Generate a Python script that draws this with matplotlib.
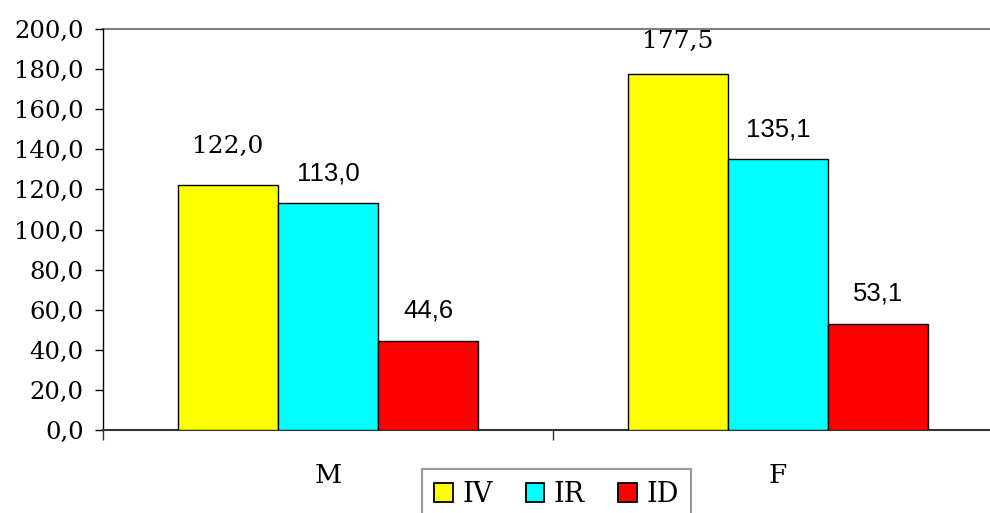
import matplotlib
matplotlib.use("Agg")
import matplotlib.pyplot as plt
from matplotlib.patches import Patch
import numpy as np

categories = ["M", "F"]
series_names = ["IV", "IR", "ID"]
iv = [122.0, 177.5]
ir = [113.0, 135.1]
id_ = [44.6, 53.1]
series_values = [iv, ir, id_]
colors = ["#FFFF00", "#00FFFF", "#FF0000"]
yticks = [0, 20, 40, 60, 80, 100, 120, 140, 160, 180, 200]
ytick_labels = ["0,0", "20,0", "40,0", "60,0", "80,0", "100,0", "120,0",
                "140,0", "160,0", "180,0", "200,0"]

W, H = 990, 513
fig = plt.figure(figsize=(W / 100, H / 100), dpi=100)
left, right, top, bottom = 103, 1003, 29, 430
ax = fig.add_axes([left / W, 1 - bottom / H, (right - left) / W, (bottom - top) / H])

serif = ["DejaVu Serif"]
sans = ["Arimo", "Liberation Sans", "DejaVu Sans"]

bw = 100 / 450
centers = np.arange(len(categories)) + 0.5
offsets = [-bw, 0, bw]
label_fonts = [serif, sans, sans]
label_sizes = [18, 18.5, 18.5]
label_gap = [[39, 33], [30, 30], [30, 30]]  # pixels above bar top

for s, (vals, c) in enumerate(zip(series_values, colors)):
    xs = centers + offsets[s]
    ax.bar(xs, vals, width=bw, color=c, edgecolor="black", linewidth=1.0, zorder=3)
    for i, (x, v) in enumerate(zip(xs, vals)):
        ax.annotate(f"{v:.1f}".replace(".", ","), (x, v), xytext=(0, label_gap[s][i] * 0.72),
                    textcoords="offset points", ha="center", va="center",
                    fontsize=label_sizes[s], family=label_fonts[s], color="black")

ax.set_xlim(0, 2)
ax.set_ylim(0, 200)
ax.axhline(200, color="#808080", linewidth=1.5, zorder=1, clip_on=False)

for sp in ["top", "right"]:
    ax.spines[sp].set_visible(False)
ax.spines["left"].set_color("black")
ax.spines["left"].set_linewidth(1.0)
ax.spines["bottom"].set_color("#333333")
ax.spines["bottom"].set_linewidth(1.5)

ax.set_yticks(yticks)
ax.set_yticklabels(ytick_labels, family=serif, fontsize=17.5)
ax.tick_params(axis="y", length=6, width=1, direction="out", pad=8, color="black")

ax.set_xticks([0, 1, 2])
ax.set_xticklabels(["", "", ""])
ax.tick_params(axis="x", which="major", length=7.5, width=1, direction="out", color="#333333")
ax.set_xticks(centers, minor=True)
ax.set_xticklabels(categories, minor=True, family=serif, fontsize=19)
ax.tick_params(axis="x", which="minor", length=0, pad=24)

handles = [Patch(facecolor=c, edgecolor="black", linewidth=1.3, label=n)
           for c, n in zip(colors, series_names)]
leg = fig.legend(handles=handles, loc="upper left",
                 bbox_to_anchor=(422 / W, 1 - 469 / H), ncol=3, frameon=True,
                 fancybox=False, prop={"family": serif, "size": 19.5},
                 handlelength=0.7, handleheight=0.7, handletextpad=0.35,
                 columnspacing=1.2, borderpad=0.45, borderaxespad=0)
leg.get_frame().set_edgecolor("#808080")
leg.get_frame().set_linewidth(1.5)

fig.savefig("out.png", dpi=100)
